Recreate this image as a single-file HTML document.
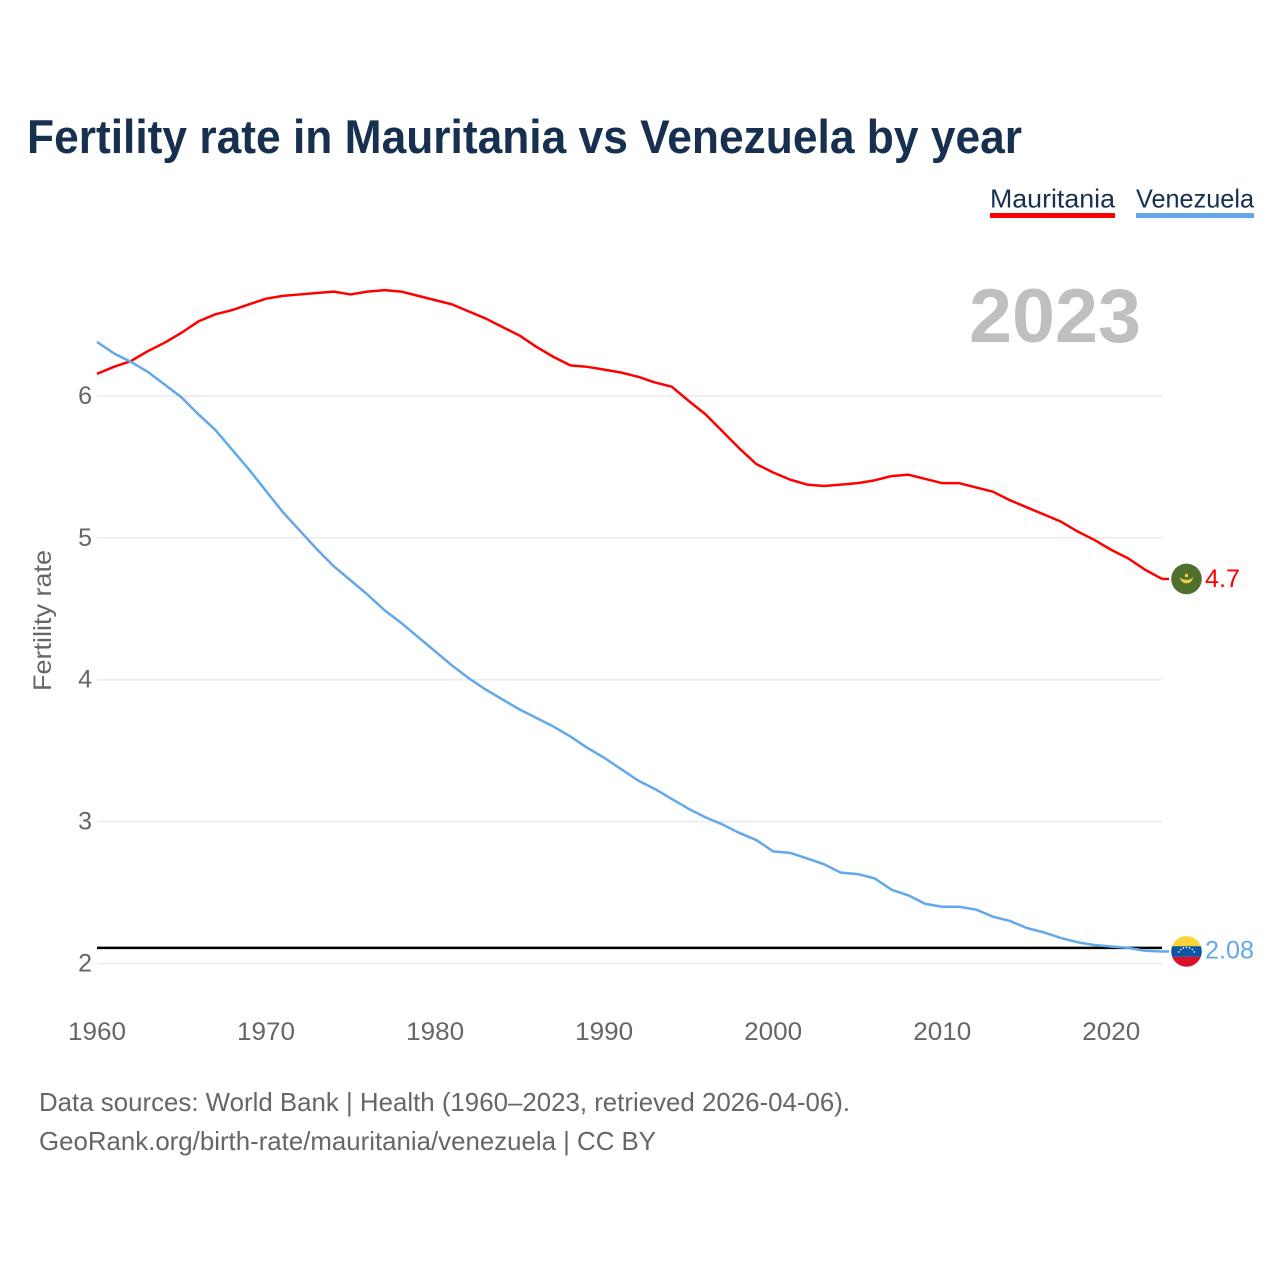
<!DOCTYPE html>
<html lang="en">
<head>
<meta charset="utf-8">
<title>Fertility rate in Mauritania vs Venezuela by year</title>
<style>
html,body{margin:0;padding:0;background:#fff;}
svg{display:block;font-family:"Liberation Sans",Arial,sans-serif;}
</style>
</head>
<body>
<svg id="chart" xmlns="http://www.w3.org/2000/svg" width="1280" height="1280" viewBox="0 0 1280 1280">
  <defs>
    <clipPath id="flag-clip"><circle cx="0" cy="0" r="15.3"></circle></clipPath>
  </defs>
  <rect x="0" y="0" width="1280" height="1280" fill="#ffffff"></rect>
  <text x="27" y="153" font-size="47" font-weight="700" fill="#17304f" textLength="995" lengthAdjust="spacingAndGlyphs">Fertility rate in Mauritania vs Venezuela by year</text>
  <g>
    <text x="990" y="207.5" font-size="26" fill="#17304f" textLength="125" lengthAdjust="spacingAndGlyphs">Mauritania</text>
    <rect x="990" y="213" width="125" height="5" fill="#ff0000"></rect>
  </g>
  <g>
    <text x="1136" y="207.5" font-size="26" fill="#17304f" textLength="118" lengthAdjust="spacingAndGlyphs">Venezuela</text>
    <rect x="1136" y="213" width="118" height="5" fill="#62a8ea"></rect>
  </g>
  <text x="969" y="342" font-size="76" font-weight="700" fill="#bfbfbf" textLength="172" lengthAdjust="spacingAndGlyphs">2023</text>
  <text transform="translate(51 691) rotate(-90)" x="0" y="0" font-size="25" fill="#666666" textLength="141" lengthAdjust="spacingAndGlyphs">Fertility rate</text>
  <g id="grid"></g>
  <g id="y-ticks"></g>
  <g id="x-ticks"></g>
  <g id="reference"></g>
  <g id="series"></g>
  <g id="end-markers"></g>
  <text x="39" y="1111" font-size="26" fill="#666666" textLength="811" lengthAdjust="spacingAndGlyphs">Data sources: World Bank | Health (1960–2023, retrieved 2026-04-06).</text>
  <text x="39" y="1150" font-size="26" fill="#666666" textLength="617" lengthAdjust="spacingAndGlyphs">GeoRank.org/birth-rate/mauritania/venezuela | CC BY</text>
</svg>
<script>
const startYear = 1960;
const mauritaniaValues = [6.155,6.205,6.245,6.315,6.375,6.445,6.525,6.575,6.605,6.645,6.685,6.705,6.715,6.725,6.735,6.715,6.735,6.745,6.735,6.705,6.675,6.645,6.595,6.545,6.485,6.425,6.345,6.275,6.215,6.205,6.185,6.165,6.135,6.095,6.065,5.965,5.87,5.75,5.63,5.52,5.46,5.41,5.375,5.365,5.375,5.385,5.405,5.435,5.445,5.415,5.385,5.385,5.355,5.325,5.265,5.215,5.165,5.115,5.045,4.985,4.915,4.855,4.775,4.71];
const venezuelaValues = [6.38,6.30,6.24,6.17,6.08,5.99,5.87,5.76,5.62,5.48,5.33,5.18,5.05,4.92,4.80,4.70,4.60,4.49,4.40,4.30,4.20,4.10,4.01,3.93,3.86,3.79,3.73,3.67,3.60,3.52,3.45,3.37,3.29,3.23,3.16,3.09,3.03,2.98,2.92,2.87,2.79,2.78,2.74,2.70,2.64,2.63,2.60,2.52,2.48,2.42,2.40,2.40,2.38,2.33,2.30,2.25,2.22,2.18,2.15,2.13,2.12,2.11,2.09,2.085];
const yTickValues = [2,3,4,5,6];
const xTickYears = [1960,1970,1980,1990,2000,2010,2020];
const referenceValue = 2.11;
const mauritaniaLabel = "4.7";
const venezuelaLabel = "2.08";

const NS = "http://www.w3.org/2000/svg";
function xScale(year){ return 97 + (year - 1960) * (1162 - 97) / 63; }
function yScale(v){ return 963.5 - (v - 2) * 141.9; }
function make(tag, attrs){
  const el = document.createElementNS(NS, tag);
  for (const k in attrs) el.setAttribute(k, attrs[k]);
  return el;
}
function linePath(values){
  return values.map(function(v, i){
    return (i ? "L" : "M") + xScale(startYear + i).toFixed(2) + " " + yScale(v).toFixed(2);
  }).join(" ");
}

const gridG = document.getElementById("grid");
const yTickG = document.getElementById("y-ticks");
yTickValues.forEach(function(v){
  const gridLine = make("line", {x1:97, x2:1162, y1:yScale(v), y2:yScale(v), stroke:"#ebebeb", "stroke-width":1.5});
  
  
  gridG.appendChild(gridLine);
  const label = make("text", {x:92, y:yScale(v) + 8, "font-size":25, fill:"#666666", "text-anchor":"end"});
  
  
  label.textContent = String(v);
  yTickG.appendChild(label);
});

const xTickG = document.getElementById("x-ticks");
xTickYears.forEach(function(yr){
  const label = make("text", {x:xScale(yr), y:1040, "font-size":25, fill:"#666666", "text-anchor":"middle", textLength:58, lengthAdjust:"spacingAndGlyphs"});
  
  
  label.textContent = String(yr);
  xTickG.appendChild(label);
});

const refLine = make("line", {x1:97, x2:1162, y1:yScale(referenceValue), y2:yScale(referenceValue), stroke:"#000000", "stroke-width":2.5});


document.getElementById("reference").appendChild(refLine);

const seriesG = document.getElementById("series");
const redPath = make("path", {d:linePath(mauritaniaValues), fill:"none", stroke:"#ff0000", "stroke-width":2.5, "stroke-linejoin":"round"});


seriesG.appendChild(redPath);
const bluePath = make("path", {d:linePath(venezuelaValues), fill:"none", stroke:"#62a8ea", "stroke-width":2.5, "stroke-linejoin":"round"});


seriesG.appendChild(bluePath);

const endG = document.getElementById("end-markers");
const lastX = xScale(startYear + mauritaniaValues.length - 1);
const redEnd = yScale(mauritaniaValues[mauritaniaValues.length - 1]);
const blueEnd = yScale(venezuelaValues[venezuelaValues.length - 1]);

const redConn = make("line", {x1:lastX, x2:lastX + 7, y1:redEnd, y2:redEnd, stroke:"#ff0000", "stroke-width":2.5});


endG.appendChild(redConn);
const blueConn = make("line", {x1:lastX, x2:lastX + 7, y1:blueEnd, y2:blueEnd, stroke:"#62a8ea", "stroke-width":2.5});


endG.appendChild(blueConn);

/* Mauritania flag */
const mrFlag = make("g", {transform:"translate(" + (lastX + 24.5) + " " + redEnd + ")", "clip-path":"url(#flag-clip)"});


mrFlag.appendChild(make("rect", {x:-16, y:-16, width:32, height:32, fill:"#4f6f2c"}));
mrFlag.appendChild(make("path", {d:"M-5.8 -0.5 A6 6 0 0 0 5.8 -0.5 A7 4.2 0 0 1 -5.8 -0.5 Z", fill:"#f0cf3e", stroke:"#f0cf3e", "stroke-width":1}));
mrFlag.appendChild(make("circle", {cx:0, cy:-3.5, r:1.7, fill:"#f0cf3e"}));
endG.appendChild(mrFlag);

/* Venezuela flag */
const veFlag = make("g", {transform:"translate(" + (lastX + 24.5) + " " + blueEnd + ")", "clip-path":"url(#flag-clip)"});


veFlag.appendChild(make("rect", {x:-16, y:-16, width:32, height:11, fill:"#fcd43a"}));
veFlag.appendChild(make("rect", {x:-16, y:-5.2, width:32, height:10.6, fill:"#0d56a6"}));
veFlag.appendChild(make("rect", {x:-16, y:5.4, width:32, height:11, fill:"#d8102c"}));
[-150,-130,-110,-90,-70,-50,-30].forEach(function(deg){
  const a = deg * Math.PI / 180;
  veFlag.appendChild(make("circle", {cx:9 * Math.cos(a), cy:5 + 9 * Math.sin(a), r:0.8, fill:"#ffffff"}));
});
endG.appendChild(veFlag);

const redLabel = make("text", {x:lastX + 43, y:redEnd + 8, "font-size":25, fill:"#ff0000", textLength:35, lengthAdjust:"spacingAndGlyphs"});


redLabel.textContent = mauritaniaLabel;
endG.appendChild(redLabel);
const blueLabel = make("text", {x:lastX + 43, y:blueEnd + 7, "font-size":25, fill:"#62a8ea", textLength:49, lengthAdjust:"spacingAndGlyphs"});


blueLabel.textContent = venezuelaLabel;
endG.appendChild(blueLabel);
</script>
</body>
</html>
